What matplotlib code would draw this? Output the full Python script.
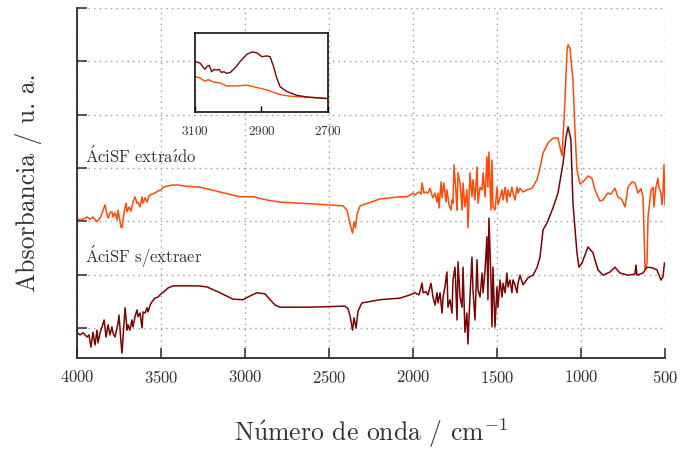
import matplotlib
matplotlib.use('Agg')
import matplotlib.pyplot as plt

plt.rcParams['font.family'] = 'serif'
plt.rcParams['font.serif'] = ['cmr10', 'DejaVu Serif']
plt.rcParams['mathtext.fontset'] = 'cm'
plt.rcParams['axes.formatter.use_mathtext'] = True
plt.rcParams['axes.unicode_minus'] = False

# espectro del ácido extraído (desplazado hacia arriba)
wn_ext = [4000, 3997, 3970, 3940, 3923, 3905, 3881, 3863, 3845, 3833, 3821, 3815,
          3804, 3792, 3786, 3774, 3762, 3756, 3738, 3732, 3720, 3708, 3702, 3690,
          3679, 3667, 3655, 3643, 3637, 3625, 3613, 3607, 3595, 3583, 3571, 3554,
          3536, 3518, 3500, 3488, 3464, 3435, 3399, 3357, 3268, 3149, 3030, 2952,
          2869, 2792, 2613, 2417, 2393, 2375, 2360, 2351, 2342, 2333, 2315, 2197,
          2077, 2036, 2018, 2000, 1988, 1976, 1964, 1952, 1946, 1935, 1923, 1911,
          1899, 1887, 1881, 1869, 1857, 1851, 1845, 1833, 1827, 1816, 1804, 1798,
          1786, 1774, 1768, 1762, 1756, 1744, 1738, 1732, 1720, 1708, 1702, 1691,
          1679, 1673, 1661, 1649, 1643, 1631, 1619, 1613, 1601, 1589, 1583, 1571,
          1560, 1554, 1548, 1536, 1530, 1524, 1512, 1500, 1494, 1482, 1470, 1464,
          1452, 1441, 1435, 1423, 1411, 1405, 1393, 1381, 1375, 1363, 1345, 1322,
          1292, 1262, 1244, 1226, 1196, 1167, 1137, 1125, 1113, 1098, 1083, 1077,
          1066, 1048, 1036, 1024, 1006, 988, 958, 935, 917, 887, 869, 851,
          839, 822, 798, 780, 756, 738, 720, 696, 679, 661, 643, 631,
          625, 619, 607, 601, 583, 571, 566, 554, 542, 536, 524, 518,
          512, 506, 500]
abs_ext = [2.21, 2.04, 2.03, 2.08, 2.04, 2.08, 1.99, 2.06, 2.21, 2.31, 2.12, 2.06,
           2.16, 2.18, 2.08, 2.16, 2.03, 2.21, 1.89, 1.88, 2.16, 2.34, 2.18, 2.27,
           2.19, 2.36, 2.46, 2.34, 2.36, 2.27, 2.46, 2.34, 2.44, 2.36, 2.48, 2.51,
           2.53, 2.57, 2.59, 2.64, 2.66, 2.68, 2.68, 2.66, 2.64, 2.55, 2.46, 2.46,
           2.40, 2.36, 2.33, 2.29, 2.21, 1.95, 1.78, 1.99, 1.88, 2.14, 2.29, 2.42,
           2.46, 2.46, 2.49, 2.53, 2.49, 2.53, 2.55, 2.51, 2.72, 2.53, 2.55, 2.53,
           2.62, 2.49, 2.44, 2.53, 2.36, 2.53, 2.25, 2.74, 2.44, 2.72, 2.36, 2.59,
           2.31, 2.21, 2.40, 2.34, 3.06, 2.53, 2.21, 2.91, 2.72, 2.21, 2.72, 2.27,
           2.59, 1.88, 2.91, 2.46, 2.78, 2.40, 3.02, 2.34, 2.64, 2.59, 2.91, 2.46,
           3.21, 2.64, 3.30, 2.21, 3.15, 2.27, 2.21, 2.64, 2.31, 2.44, 2.59, 2.40,
           2.64, 2.36, 2.59, 2.46, 2.64, 2.53, 2.40, 2.64, 2.53, 2.62, 2.55, 2.59,
           2.62, 2.78, 3.00, 3.28, 3.47, 3.56, 3.56, 3.39, 3.23, 4.09, 5.21, 5.31,
           5.25, 4.65, 3.71, 2.96, 2.70, 2.74, 2.85, 2.81, 2.59, 2.38, 2.40, 2.49,
           2.53, 2.51, 2.62, 2.46, 2.40, 2.27, 2.64, 2.74, 2.72, 2.53, 2.61, 2.46,
           1.84, 1.09, 1.22, 2.08, 2.59, 2.64, 2.27, 2.64, 2.81, 2.64, 2.53, 2.31,
           2.53, 3.06, 2.31]

# espectro del ácido sin extraer
wn_sin = [3997, 3982, 3964, 3940, 3929, 3917, 3905, 3893, 3881, 3875, 3863, 3851,
          3839, 3827, 3815, 3804, 3792, 3786, 3774, 3756, 3750, 3738, 3732, 3726,
          3714, 3702, 3696, 3685, 3673, 3667, 3655, 3643, 3637, 3625, 3613, 3607,
          3595, 3583, 3577, 3565, 3554, 3536, 3518, 3500, 3482, 3458, 3429, 3399,
          3369, 3280, 3226, 3149, 3071, 3012, 2958, 2929, 2881, 2851, 2821, 2792,
          2613, 2405, 2387, 2375, 2360, 2351, 2339, 2327, 2304, 2197, 2077, 2018,
          1988, 1964, 1946, 1940, 1923, 1911, 1893, 1881, 1869, 1857, 1851, 1839,
          1827, 1821, 1810, 1798, 1792, 1780, 1768, 1762, 1750, 1738, 1732, 1720,
          1708, 1702, 1691, 1679, 1673, 1661, 1649, 1643, 1631, 1619, 1613, 1601,
          1589, 1583, 1571, 1560, 1554, 1548, 1536, 1530, 1524, 1512, 1500, 1494,
          1482, 1470, 1464, 1452, 1441, 1435, 1423, 1411, 1405, 1393, 1381, 1375,
          1363, 1345, 1333, 1316, 1286, 1262, 1244, 1226, 1202, 1167, 1137, 1107,
          1089, 1077, 1060, 1048, 1024, 1012, 994, 958, 929, 899, 869, 827,
          798, 768, 720, 679, 673, 667, 631, 607, 578, 548, 524, 512,
          503]
abs_sin = [-0.09, -0.13, -0.09, -0.17, -0.13, -0.36, -0.08, -0.32, -0.04, -0.28, -0.09, 0.02,
           0.15, -0.17, 0.06, -0.13, 0.02, -0.09, -0.17, 0.09, 0.24, -0.28, -0.47, -0.17,
           0.38, -0.04, 0.06, -0.04, 0.15, 0.02, 0.21, 0.34, 0.21, 0.28, 0.00, 0.30,
           0.28, 0.38, 0.30, 0.43, 0.49, 0.56, 0.58, 0.64, 0.68, 0.75, 0.79, 0.79,
           0.79, 0.79, 0.77, 0.66, 0.54, 0.53, 0.62, 0.66, 0.64, 0.53, 0.43, 0.39,
           0.39, 0.41, 0.36, 0.23, -0.04, 0.19, 0.00, 0.32, 0.47, 0.53, 0.56, 0.62,
           0.66, 0.62, 0.84, 0.66, 0.68, 0.62, 0.84, 0.58, 0.43, 0.66, 0.47, 0.66,
           0.28, 0.58, 0.77, 1.05, 0.39, 0.53, 0.28, 0.90, 1.14, 0.15, 1.24, 0.58,
           0.39, 1.14, -0.08, 0.28, -0.30, 0.58, 1.33, 0.71, 0.15, 1.28, 0.71, 0.58,
           1.03, 0.66, 1.09, 1.71, 0.53, 2.06, 0.90, 0.02, 1.14, 0.02, 0.77, 0.39,
           0.90, 0.58, 0.84, 0.66, 1.03, 0.77, 0.90, 0.66, 0.90, 0.81, 0.66, 0.84,
           0.99, 0.81, 0.86, 0.94, 0.99, 1.13, 1.33, 1.84, 1.97, 2.25, 2.53, 3.09,
           3.58, 3.77, 3.53, 2.34, 1.41, 1.14, 1.22, 1.52, 1.41, 1.09, 0.99, 1.05,
           1.14, 1.03, 0.99, 1.01, 1.18, 0.99, 1.03, 1.14, 1.13, 1.09, 0.90, 0.96,
           1.22]

# detalle de la zona C-H (3100-2700)
wn_zoom_sin = [3100, 3085, 3070, 3063, 3057, 3050, 3042, 3035, 3028, 3020, 3013, 3005,
               2994, 2979, 2964, 2944, 2929, 2914, 2899, 2884, 2874, 2864, 2854, 2844,
               2824, 2793, 2763, 2733, 2700]
abs_zoom_sin = [0.64, 0.62, 0.54, 0.58, 0.59, 0.51, 0.54, 0.53, 0.54, 0.50, 0.51, 0.49,
                0.50, 0.56, 0.64, 0.73, 0.76, 0.75, 0.70, 0.71, 0.70, 0.58, 0.43, 0.32,
                0.26, 0.21, 0.19, 0.18, 0.17]
wn_zoom_ext = [3100, 3085, 3070, 3060, 3045, 3025, 3005, 2974, 2944, 2924, 2904, 2884,
               2864, 2844, 2814, 2773, 2733, 2700]
abs_zoom_ext = [0.45, 0.43, 0.39, 0.41, 0.38, 0.37, 0.33, 0.33, 0.34, 0.32, 0.30, 0.28,
                0.25, 0.22, 0.20, 0.19, 0.18, 0.17]

x_ticks = [4000, 3500, 3000, 2500, 2000, 1500, 1000, 500]
y_ticks = [0, 1, 2, 3, 4, 5, 6]
zoom_ticks = [3100, 2900, 2700]

c_ext = '#FF4A0A'
c_sin = '#7A0505'
spine_c = '#2b2b2b'
txt_c = '#333333'

fig = plt.figure(figsize=(6.81, 4.54), dpi=100)
ax = fig.add_axes([0.1131, 0.2115, 0.8634, 0.7709])

ax.plot(wn_ext, abs_ext, color=c_ext, lw=1.1)
ax.plot(wn_sin, abs_sin, color=c_sin, lw=1.1)

ax.set_xlim(4000, 500)
ax.set_ylim(-0.5625, 6)
ax.set_xticks(x_ticks)
ax.set_yticks(y_ticks)
ax.set_yticklabels([])
ax.grid(True, ls=(0, (1, 3)), color='#9a9a9a', lw=1.0)
ax.set_axisbelow(True)
for s in ['top', 'right']:
    ax.spines[s].set_visible(False)
for s in ['left', 'bottom']:
    ax.spines[s].set_color(spine_c)
    ax.spines[s].set_linewidth(1.3)
ax.tick_params(direction='in', length=7, width=1.1, color=spine_c,
               labelsize=12, pad=8, labelcolor=txt_c)

ax.set_xlabel(r'N$\mathrm{\acute{u}}$mero de onda / cm$^{-1}$',
              fontsize=18.5, labelpad=22, color=txt_c)
ax.set_ylabel('Absorbancia / u. a.', fontsize=18.5, labelpad=17, color=txt_c)

ax.text(3952, 3.09, r'$\mathrm{\acute{A}ciSF\ extra\acute{\imath}do}$',
        fontsize=12, color=txt_c)
ax.text(3952, 1.22, r'$\mathrm{\acute{A}ciSF\ s/extraer}$',
        fontsize=12, color=txt_c)

# recuadro con la zona C-H ampliada
axi = fig.add_axes([0.2863, 0.7533, 0.1953, 0.174])
axi.plot(wn_zoom_ext, abs_zoom_ext, color=c_ext, lw=1.0)
axi.plot(wn_zoom_sin, abs_zoom_sin, color=c_sin, lw=1.0)
axi.set_xlim(3100, 2700)
axi.set_ylim(0, 1)
axi.set_xticks(zoom_ticks)
axi.set_yticks([])
axi.tick_params(direction='in', length=4, width=1.0, labelsize=9.5, pad=9,
                labelcolor=txt_c)
for s in axi.spines.values():
    s.set_linewidth(1.2)
    s.set_color('#111111')

fig.savefig('out.png', dpi=100)
